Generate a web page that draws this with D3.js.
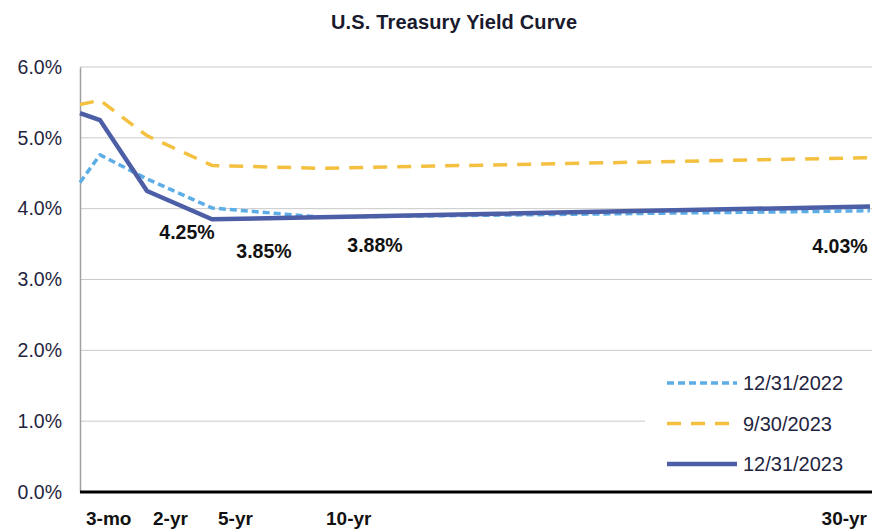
<!DOCTYPE html>
<html>
<head>
<meta charset="utf-8">
<script src="https://cdn.jsdelivr.net/npm/d3@7"></script>
<style>
  body { margin: 0; background: #fff; }
  text { font-family: "Liberation Sans", Arial, sans-serif; }
</style>
</head>
<body>
<div id="chart"></div>
<script>
// maturities in years
const maturities = [0.25, 0.5, 2, 5, 10, 30];
const seriesNames = ["12/31/2022", "9/30/2023", "12/31/2023"];
const yields2022 = [4.37, 4.76, 4.42, 4.01, 3.88, 3.97];
const yieldsSep23 = [5.47, 5.53, 5.03, 4.61, 4.57, 4.72];
const yieldsDec23 = [5.35, 5.25, 4.25, 3.85, 3.88, 4.03];
const tickLabels = ["3-mo", "2-yr", "5-yr", "10-yr", "30-yr"];
const tickAt = [0.25, 2, 5, 10, 30];
const yTicks = [0, 1, 2, 3, 4, 5, 6];
// labels shown for the latest curve
const labelAt = [2, 5, 10, 30];

var W = 874, H = 531;
var svg = d3.select("#chart").append("svg").attr("width", W).attr("height", H);

// Excel-like uneven spacing of the maturities
var x = d3.scaleLinear()
  .domain(maturities)
  .range([80, 100, 147, 212, 320, 870]);
var y = d3.scaleLinear().domain([0, 6]).range([492, 67]);

svg.append("text")
  .attr("x", 454).attr("y", 29)
  .attr("text-anchor", "middle")
  .attr("font-size", "20px").attr("font-weight", "bold")
  .attr("fill", "#1a1a2e")
  .attr("textLength", 246)
  .text("U.S. Treasury Yield Curve");

// grid
svg.append("g").selectAll("line").data(yTicks.filter(d => d > 0)).join("line")
  .attr("x1", 80).attr("x2", 872)
  .attr("y1", d => y(d)).attr("y2", d => y(d))
  .attr("stroke", "#c9c9c9").attr("stroke-width", 1);

// y axis
var yAxis = d3.axisLeft(y).tickValues(yTicks).tickSize(0).tickPadding(18)
  .tickFormat(d => d.toFixed(1) + "%");
var gy = svg.append("g").attr("transform", "translate(80,0)").call(yAxis);
gy.select(".domain").attr("stroke", "#a0a0a0").attr("stroke-width", 1.5);
gy.selectAll("text").attr("font-size", "19.5px").attr("fill", "#1f2540")
  .attr("font-family", "Liberation Sans, Arial, sans-serif");

var series = [
  { name: seriesNames[0], values: yields2022, color: "#5dade6", dash: "7,4", w: 3.5 },
  { name: seriesNames[1], values: yieldsSep23, color: "#f4c040", dash: "14,10", w: 3.5 },
  { name: seriesNames[2], values: yieldsDec23, color: "#4c5ea6", dash: null, w: 4.5 }
];

var line = d3.line()
  .x(d => x(d[0]))
  .y(d => y(d[1]));

svg.append("g").selectAll("path").data(series).join("path")
  .attr("d", s => line(maturities.map((m, i) => [m, s.values[i]])))
  .attr("fill", "none")
  .attr("stroke", s => s.color)
  .attr("stroke-width", s => s.w)
  .attr("stroke-dasharray", s => s.dash)
  .attr("stroke-linejoin", "round");

// data labels
var lblDx = [40, 52, 55, -30];
var lblDy = [48, 39, 35, 46];
svg.append("g").selectAll("text").data(labelAt).join("text")
  .attr("x", (d, i) => x(d) + lblDx[i])
  .attr("y", (d, i) => y(yieldsDec23[maturities.indexOf(d)]) + lblDy[i])
  .attr("text-anchor", "middle")
  .attr("font-size", "19.5px").attr("font-weight", "bold").attr("fill", "#111")
  .text(d => yieldsDec23[maturities.indexOf(d)].toFixed(2) + "%");

// x axis
svg.append("line")
  .attr("x1", 80).attr("x2", 872).attr("y1", y(0)).attr("y2", y(0))
  .attr("stroke", "#000").attr("stroke-width", 3);

svg.append("g").selectAll("text").data(tickLabels).join("text")
  .attr("x", (d, i) => i === tickLabels.length - 1 ? x(tickAt[i]) - 3 : x(tickAt[i]) + 6)
  .attr("y", 525)
  .attr("text-anchor", (d, i) => i === tickLabels.length - 1 ? "end" : "start")
  .attr("font-size", "19px").attr("font-weight", "bold").attr("fill", "#111")
  .text(d => d);

// legend
var lg = svg.append("g").attr("transform", "translate(645,365)");
lg.append("rect").attr("width", 229).attr("height", 115).attr("fill", "#fff");
var rows = lg.selectAll("g").data(series).join("g")
  .attr("transform", (d, i) => "translate(0," + (18 + i * 40.5) + ")");
rows.append("line")
  .attr("x1", 22).attr("x2", 92)
  .attr("stroke", s => s.color)
  .attr("stroke-width", s => s.w)
  .attr("stroke-dasharray", s => s.dash);
rows.append("text")
  .attr("x", 98).attr("y", 7)
  .attr("font-size", "20px").attr("fill", "#1f2540")
  .text(s => s.name);
</script>
</body>
</html>
